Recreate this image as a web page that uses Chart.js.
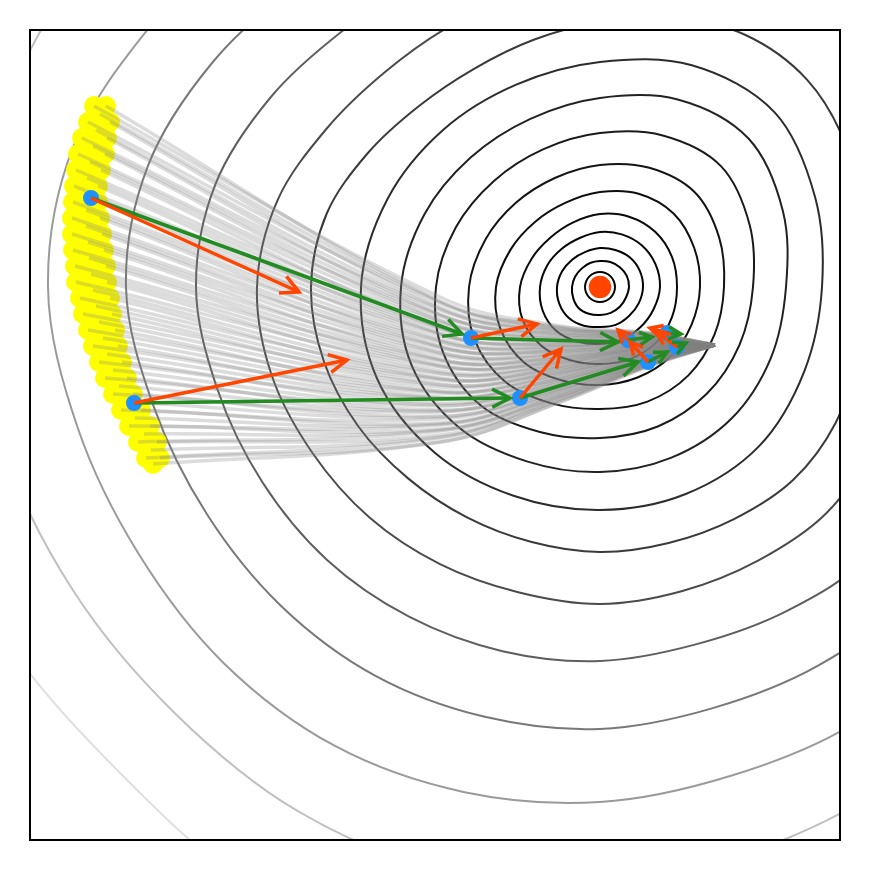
<!DOCTYPE html>
<html><head><meta charset="utf-8">
<script src="https://cdn.jsdelivr.net/npm/chart.js@4/dist/chart.umd.min.js"></script>
<style>html,body{margin:0;padding:0;background:#fff}canvas{display:block}</style>
</head><body>
<canvas id="c" width="870" height="870"></canvas>
<script>
// ---------- optimum ----------
const optX = [600], optY = [287];

// ---------- contour levels, read as distance from the optimum at fixed bearings ----------
// bearings in degrees, screen orientation (0 = right, 90 = down, 180 = left, 270 = up)
const bearings16 = [0,22.5,45,67.5,90,112.5,135,157.5,180,202.5,225,247.5,270,292.5,315,337.5];
const bearings24 = [0,15,30,45,60,75,90,105,120,135,150,165,180,195,210,225,240,255,270,285,300,315,330,345];

const ring1  = [15,15,15,15,15,15,15,15,15,15,15,15,15,15,15,15];
const ring2  = [29,28,28,28,28,29,30,29,28,27,26,26,26,27,28,29];
const ring3  = [43,42,41,41,40,42,44,44,43,41,39,38,39,40,42,43];
const ring4  = [60,58,57,57,57,59,62,62,60,57,54,53,55,57,59,60];
const ring5  = [77,78,79,78,77,79,83,84,80,74,70,70,73,76,78,78];
const ring6  = [100,99,99,98,98,101,107,108,104,97,92,91,95,101,104,102];
const ring7  = [124,124,125,124,122,126,134,136,131,124,119,118,122,129,134,129];
const ring8  = [153,151,151,151,151,157,168,170,164,156,150,149,154,164,171,162];
const ring9  = [186,185,186,185,185,189,199,204,199,190,183,182,189,203,210,198];
const ring10 = [222,221,225,224,223,226,234,241,239,230,222,219,225,240,247,233];

const ring11 = [262,266,272,273,268,265,265,264,266,271,279,286,289,283,268,256,252,256,265,279,291,293,284,271];
const ring12 = [305,309,316,320,316,315,317,316,320,326,332,340,343,334,316,304,301,304,312,330,350,360,343,318];
const ring13 = [352,356,366,380,374,370,374,377,381,386,390,396,404,398,380,363,356,359,367,386,408,425,405,370];
const ring14 = [405,410,422,438,437,436,442,445,449,451,454,462,474,468,448,428,421,424,432,452,478,495,475,435];
const ring15 = [475,478,488,500,505,506,515,523,530,532,533,541,552,545,520,502,496,500,510,530,558,580,555,500];
const ring16 = [530,535,545,560,575,585,600,605,605,602,608,618,625,622,610,590,585,590,600,620,650,680,640,560];
const ring17 = [650,650,660,670,680,690,700,700,694,683,692,705,720,720,720,710,700,700,700,710,730,750,720,680];

const innerRings = [ring1,ring2,ring3,ring4,ring5,ring6,ring7,ring8,ring9,ring10];
const outerRings = [ring11,ring12,ring13,ring14,ring15,ring16,ring17];
const innerColors = ['#000000','#000000','#030303','#060606','#0a0a0a','#0e0e0e','#141414','#1a1a1a','#222222','#2c2c2c'];
const outerColors = ['#3a3a3a','#4b4b4b','#5e5e5e','#787878','#9a9a9a','#c0c0c0','#e0e0e0'];

// ---------- starting samples (yellow) ----------
const startX = [94,106,100,88,110,96,82,107,93,78,105,90,76,101,87,74,98,86,73,98,86,72,100,86,72,102,88,73,104,89,75,106,91,76,107,93,80,110,96,83,112,99,88,115,103,93,118,107,99,122,113,105,127,119,113,133,126,121,141,135,129,150,144,138,157,151,146,160,153];
const startY = [106,106,114,122,122,130,138,138,146,154,154,162,170,170,178,186,186,194,202,202,210,218,218,226,234,234,242,250,250,258,266,266,274,282,282,290,298,298,306,314,314,322,330,330,338,346,346,354,362,362,370,378,378,386,394,394,402,410,410,418,426,426,434,442,442,450,458,458,464];

// ---------- sample trajectories (gray): height at three x stations, then common end ----------
const trajStationX = [440, 560, 650];
const trajAt440 = [297,301,302,303,307,309,310,314,315,316,320,321,323,327,328,329,333,334,335,339,341,342,346,347,348,352,353,355,359,360,361,365,366,367,371,373,374,378,379,380,384,385,387,391,392,393,397,398,399,403,405,406,410,411,412,416,417,419,423,424,425,429,430,431,435,437,438,442,442];
const trajAt560 = [326,327,328,329,330,331,332,334,334,335,337,338,339,341,341,342,344,345,345,347,348,349,351,351,352,354,355,356,358,358,359,361,362,362,364,365,366,368,368,369,371,372,372,374,375,376,378,379,379,381,382,383,385,385,386,388,389,389,391,392,393,395,396,396,398,399,400,402,402];
const trajAt650 = [333,333,334,334,334,335,336,336,337,337,338,338,339,339,340,340,341,341,342,342,343,343,344,344,345,345,346,346,347,347,348,348,348,349,349,350,351,351,351,352,352,353,354,354,354,355,355,356,357,357,357,358,358,359,359,359,360,361,361,362,362,362,363,364,364,365,365,365,366];
const trajEndX = 715, trajEndY = 345;

// ---------- two optimizer runs (blue steps) ----------
const run1X = [91, 471, 628, 667];
const run1Y = [198, 338, 340, 333];
const run2X = [134, 520, 648, 677];
const run2Y = [403, 398, 362, 347];
// green: step arrows (end points)
const step1EndX = [462, 618, 652, 681];
const step1EndY = [334, 342, 337, 334];
const step2EndX = [510, 638, 667, 686];
const step2EndY = [398, 362, 352, 343];
// orange: gradient arrows (end points)
const grad1EndX = [299, 537, 618, 650];
const grad1EndY = [292, 324, 330, 328];
const grad2EndX = [347, 561, 630, 657];
const grad2EndY = [360, 349, 342, 332];

// ---------- build datasets ----------
const datasets = [];
const HIDDEN = 'rgba(0,0,0,0)';
function ringData(bearings, radii) {
  const pts = bearings.map((b, i) => ({
    x: optX[0] + radii[i] * Math.cos(b * Math.PI / 180),
    y: optY[0] + radii[i] * Math.sin(b * Math.PI / 180)
  }));
  // wrap: last, all..., first, second  -> the two outer segments are hidden
  return [pts[pts.length - 1]].concat(pts, [pts[0], pts[1]]);
}
function ringDataset(bearings, radii, color) {
  const data = ringData(bearings, radii);
  const lastIdx = data.length - 1;
  return {data, showLine: true, borderColor: color, borderWidth: 2, pointRadius: 0,
    tension: 0.34, clip: 0, order: 100,
    segment: {borderColor: c => (c.p0DataIndex === 0 || c.p1DataIndex === lastIdx) ? HIDDEN : undefined}};
}
innerRings.forEach((r, i) => datasets.push(ringDataset(bearings16, r, innerColors[i])));
outerRings.forEach((r, i) => datasets.push(ringDataset(bearings24, r, outerColors[i])));

datasets.push({data: startX.map((x, i) => ({x, y: startY[i]})), showLine: false,
  pointRadius: 10, backgroundColor: '#ffff00', borderWidth: 0, order: 90});

startX.forEach((x, i) => {
  datasets.push({data: [
      {x, y: startY[i]},
      {x: trajStationX[0], y: trajAt440[i]},
      {x: trajStationX[1], y: trajAt560[i]},
      {x: trajStationX[2], y: trajAt650[i]},
      {x: trajEndX, y: trajEndY}],
    showLine: true, borderColor: 'rgba(128,128,128,0.28)', borderWidth: 3.5,
    pointRadius: 0, tension: 0.4, order: 80});
});

datasets.push({data: run1X.map((x, i) => ({x, y: run1Y[i]})).concat(run2X.map((x, i) => ({x, y: run2Y[i]}))),
  showLine: false, pointRadius: 8, backgroundColor: '#1e90ff', borderWidth: 0, order: 70});

function addArrows(sx, sy, ex, ey, color, order) {
  sx.forEach((x, i) => {
    datasets.push({data: [{x, y: sy[i]}, {x: ex[i], y: ey[i]}], showLine: true,
      borderColor: color, borderWidth: 3.5, pointRadius: 0, tension: 0, order, arrow: true});
  });
}
addArrows(run1X, run1Y, step1EndX, step1EndY, '#228b22', 60);
addArrows(run2X, run2Y, step2EndX, step2EndY, '#228b22', 60);
addArrows(run1X, run1Y, grad1EndX, grad1EndY, '#ff4500', 50);
addArrows(run2X, run2Y, grad2EndX, grad2EndY, '#ff4500', 50);

datasets.push({data: optX.map((x, i) => ({x, y: optY[i]})), showLine: false,
  pointRadius: 12, backgroundColor: '#ff4500', borderColor: '#ffffff', borderWidth: 1.5, order: 40});

// ---------- plugins ----------
const arrowHeads = {
  id: 'arrowHeads',
  afterDatasetsDraw(chart) {
    const ctx = chart.ctx;
    chart.data.datasets.forEach((ds, i) => {
      if (!ds.arrow) return;
      const m = chart.getDatasetMeta(i);
      const a = m.data[0], b = m.data[1];
      const dx = b.x - a.x, dy = b.y - a.y;
      const len = Math.hypot(dx, dy);
      const ang = Math.atan2(dy, dx);
      const L = len > 60 ? 20 : 14;
      const w = 0.47;
      ctx.save();
      ctx.strokeStyle = ds.borderColor;
      ctx.lineWidth = 3.5;
      ctx.lineCap = 'butt';
      ctx.lineJoin = 'miter';
      ctx.beginPath();
      ctx.moveTo(b.x - L * Math.cos(ang - w), b.y - L * Math.sin(ang - w));
      ctx.lineTo(b.x, b.y);
      ctx.lineTo(b.x - L * Math.cos(ang + w), b.y - L * Math.sin(ang + w));
      ctx.stroke();
      ctx.restore();
    });
  }
};
const frame = {
  id: 'frame',
  afterDraw(chart) {
    const {left, top, right, bottom} = chart.chartArea;
    const ctx = chart.ctx;
    ctx.save();
    ctx.strokeStyle = '#000';
    ctx.lineWidth = 2;
    ctx.strokeRect(left, top, right - left, bottom - top);
    ctx.restore();
  }
};

new Chart(document.getElementById('c'), {
  type: 'scatter',
  data: {datasets},
  options: {
    responsive: false,
    animation: false,
    events: [],
    layout: {padding: 30},
    elements: {line: {capBezierPoints: false}},
    plugins: {legend: {display: false}, tooltip: {enabled: false}},
    scales: {
      x: {type: 'linear', min: 30, max: 840, display: false},
      y: {type: 'linear', min: 30, max: 840, reverse: true, display: false}
    }
  },
  plugins: [arrowHeads, frame]
});
</script>
</body></html>
